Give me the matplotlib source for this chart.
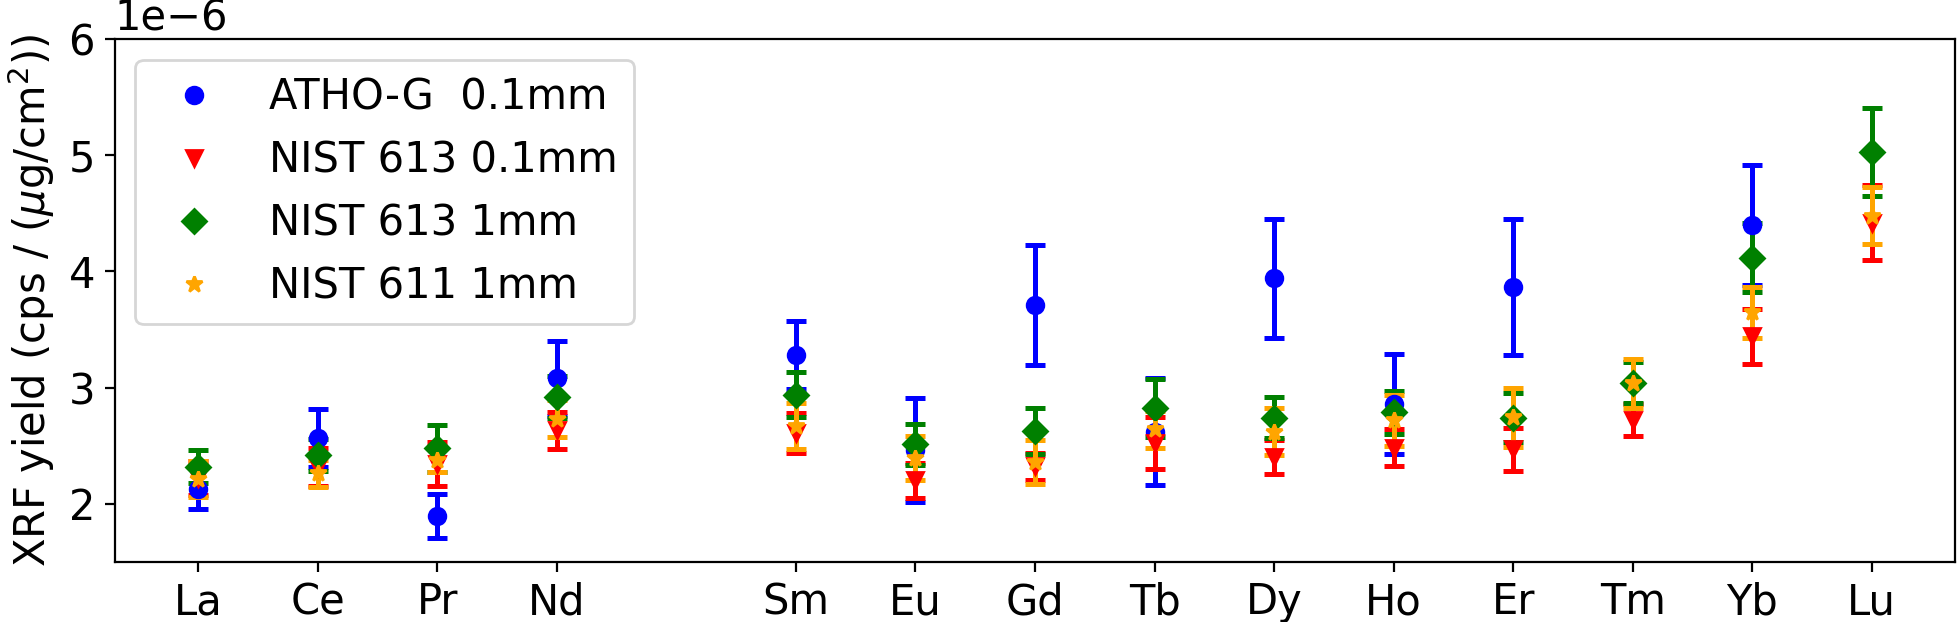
import matplotlib
matplotlib.use('Agg')
import matplotlib.pyplot as plt
import numpy as np

plt.rcParams['font.size'] = 15

# lanthanides (no Pm), plotted at their atomic number
elements = ['La', 'Ce', 'Pr', 'Nd', 'Sm', 'Eu', 'Gd', 'Tb', 'Dy', 'Ho', 'Er', 'Tm', 'Yb', 'Lu']
z = [57, 58, 59, 60, 62, 63, 64, 65, 66, 67, 68, 69, 70, 71]

nan = np.nan
# XRF yields in units of 1e-6 cps / (ug/cm2)
atho_01 = [2.13, 2.565, 1.89, 3.08, 3.28, 2.46, 3.71, 2.62, 3.94, 2.86, 3.865, nan, 4.40, nan]
atho_01_err = [0.18, 0.25, 0.19, 0.325, 0.29, 0.45, 0.515, 0.46, 0.515, 0.43, 0.585, nan, 0.513, nan]

nist613_01 = [2.22, 2.315, 2.34, 2.63, 2.61, 2.20, 2.32, 2.525, 2.40, 2.48, 2.47, 2.72, 3.44, 4.42]
nist613_01_err = [0.145, 0.16, 0.19, 0.16, 0.17, 0.15, 0.12, 0.225, 0.147, 0.16, 0.185, 0.14, 0.24, 0.325]

nist613_1 = [2.318, 2.418, 2.475, 2.916, 2.94, 2.51, 2.625, 2.82, 2.74, 2.786, 2.74, 3.043, 4.12, 5.028]
nist613_1_err = [0.14, 0.14, 0.205, 0.18, 0.195, 0.18, 0.2, 0.25, 0.176, 0.186, 0.21, 0.173, 0.295, 0.378]

nist611_1 = [2.215, 2.26, 2.38, 2.73, 2.67, 2.39, 2.36, 2.64, 2.62, 2.72, 2.743, 3.038, 3.648, 4.48]
nist611_1_err = [0.155, 0.12, 0.11, 0.16, 0.2, 0.19, 0.19, 0.16, 0.2, 0.22, 0.256, 0.21, 0.222, 0.245]

series = [
    (atho_01, atho_01_err, 'o', 'blue', 'ATHO-G  0.1mm'),
    (nist613_01, nist613_01_err, 'v', 'red', 'NIST 613 0.1mm'),
    (nist613_1, nist613_1_err, 'D', 'green', 'NIST 613 1mm'),
    (nist611_1, nist611_1_err, '*', 'orange', 'NIST 611 1mm'),
]

fig, ax = plt.subplots(figsize=(9.79, 3.11), dpi=200)
fig.subplots_adjust(left=0.0585, right=0.9987, bottom=0.097, top=0.9368)

handles = []
for vals, errs, mk, col, lab in series:
    c = ax.errorbar(z, np.array(vals) * 1e-6, yerr=np.array(errs) * 1e-6,
                    fmt=mk, color=col, capsize=3.6, elinewidth=1.8, capthick=1.8,
                    label=lab)
    handles.append(c[0])

ax.set_xticks(z)
ax.set_xticklabels(elements)
ax.set_ylim(1.5e-6, 6e-6)
ax.set_ylabel(r'XRF yield (cps / ($\mu$g/cm$^2$))')
ax.legend(handles=handles, labels=[s[4] for s in series], loc='upper left')

plt.savefig('out.png', dpi=200)
